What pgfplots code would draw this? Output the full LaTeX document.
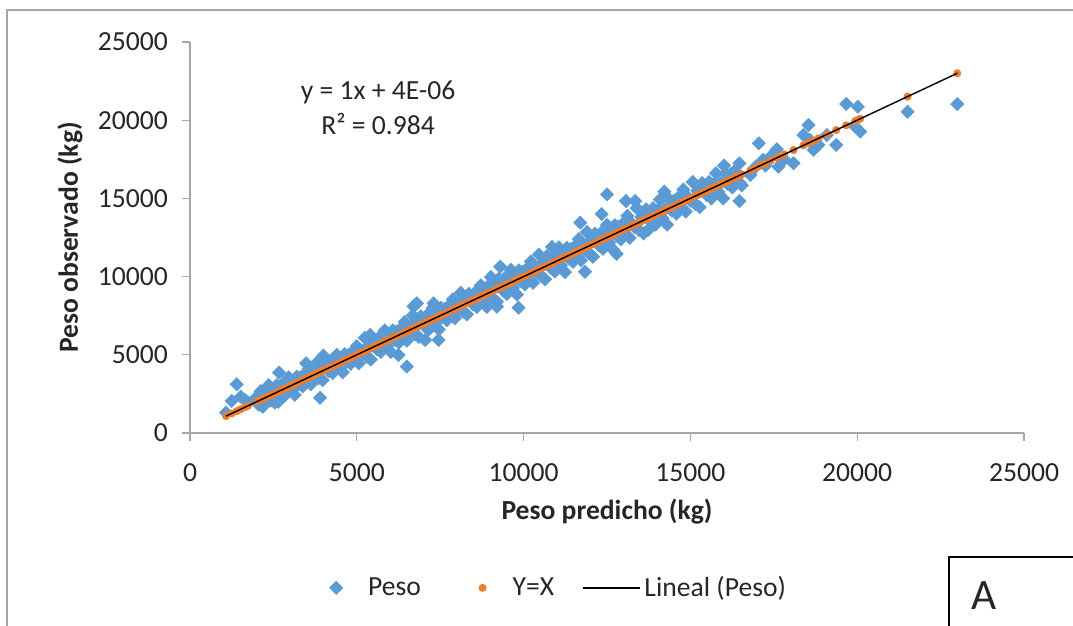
\documentclass[border=0pt]{standalone}
\usepackage{pgfplots}
\pgfplotsset{compat=1.18}
\usepackage{pgfplotstable}
\usepackage{fontspec}
\setmainfont{Carlito}

\definecolor{pesoblue}{HTML}{5B9BD5}
\definecolor{yxorange}{HTML}{ED7D31}
\definecolor{axgray}{HTML}{A6A6A6}
\definecolor{txt}{HTML}{262626}
\newcommand{\fs}{\fontsize{13.8}{16.5}\selectfont}

\pgfplotsset{
  markleg/.style={legend image code/.code={\draw[##1] plot coordinates {(0pt,0pt)}; \path[draw=none] (0pt,0pt) -- (#1,0pt);}},
  lineleg/.style={legend image code/.code={\draw[##1] (0pt,0pt) -- (28.5pt,0pt);}},
}

% Peso predicho (x) vs Peso observado (y), kg
\pgfplotstableread[row sep=\\]{
x y\\
1080 1300\\ 1250 2050\\ 1400 3110\\ 1520 2320\\ 1650 2110\\ 1740 1950\\
2000 2300\\ 2060 1810\\ 2120 2670\\ 2180 1680\\ 2240 2340\\ 2300 2200\\ 2360 3060\\ 2420 2070\\
2480 2680\\ 2540 1940\\ 2600 3050\\ 2650 2000\\ 2660 2660\\ 2670 3860\\ 2720 2520\\ 2780 3130\\
2840 2390\\ 2900 3050\\ 2960 3560\\ 3020 2720\\ 3080 3130\\ 3140 2440\\ 3200 3600\\ 3260 3110\\
3320 3570\\ 3380 2980\\ 3440 3740\\ 3480 4460\\ 3500 3250\\ 3560 4110\\ 3620 3120\\ 3680 3780\\
3740 3640\\ 3800 4500\\ 3860 3510\\ 3900 2250\\ 3920 4120\\ 3980 3380\\ 4000 4950\\ 4040 4490\\
4100 4100\\ 4160 3960\\ 4220 4570\\ 4280 3830\\ 4340 4490\\ 4400 5000\\ 4460 4160\\ 4520 4570\\
4580 3880\\ 4640 5040\\ 4700 4550\\ 4760 5010\\ 4820 4420\\ 4880 5180\\ 4940 4690\\ 5000 5550\\
5060 4460\\ 5120 5240\\ 5180 5060\\ 5240 6080\\ 5300 4880\\ 5360 5600\\ 5400 6270\\ 5420 4700\\
5480 6020\\ 5540 5540\\ 5600 5360\\ 5660 6080\\ 5720 5180\\ 5780 5960\\ 5840 6560\\ 5900 5540\\
5960 6020\\ 6020 5180\\ 6080 6560\\ 6140 5960\\ 6200 6500\\ 6250 4990\\ 6260 5780\\ 6320 6680\\
6380 6080\\ 6440 7100\\ 6500 5900\\ 6500 4250\\ 6560 6680\\ 6620 6500\\ 6680 7520\\ 6700 8100\\
6740 6320\\ 6800 7040\\ 6800 8290\\ 6860 6140\\ 6920 7460\\ 6980 6980\\ 7040 6800\\ 7050 5950\\
7100 7520\\ 7160 6620\\ 7220 7400\\ 7280 8000\\ 7300 8290\\ 7340 6980\\ 7400 7460\\ 7450 5950\\
7460 6620\\ 7520 8000\\ 7580 7400\\ 7640 7940\\ 7700 7220\\ 7760 8120\\ 7820 7520\\ 7880 8540\\
7940 7340\\ 8000 8120\\ 8060 7940\\ 8120 8960\\ 8180 7760\\ 8240 8480\\ 8300 7580\\ 8360 8900\\
8420 8420\\ 8480 8240\\ 8540 8960\\ 8600 8060\\ 8660 8840\\ 8720 9440\\ 8780 8420\\ 8840 8900\\
8900 8060\\ 8960 9440\\ 9020 9970\\ 9080 8610\\ 9140 9410\\ 9200 8390\\ 9200 8080\\ 9260 9870\\
9300 10630\\ 9320 9320\\ 9380 9110\\ 9440 9910\\ 9500 8890\\ 9560 9760\\ 9620 10430\\ 9680 9280\\
9740 9810\\ 9800 8850\\ 9850 8010\\ 9860 10400\\ 9920 9720\\ 9980 10320\\ 10040 9500\\ 10100 10500\\
10160 9820\\ 10220 10960\\ 10280 9600\\ 10340 10480\\ 10400 10260\\ 10460 11410\\ 10520 10050\\ 10580 10850\\
10640 9830\\ 10700 11310\\ 10760 10760\\ 10820 10550\\ 10850 11900\\ 10880 11350\\ 10940 10330\\ 11000 11200\\
11060 11870\\ 11120 10720\\ 11180 11250\\ 11240 10290\\ 11300 11840\\ 11360 11160\\ 11420 11760\\ 11480 10940\\
11540 11940\\ 11600 11260\\ 11660 12400\\ 11700 13450\\ 11720 11040\\ 11780 11920\\ 11840 11700\\ 11840 10310\\
11900 12850\\ 11960 11490\\ 12020 12290\\ 12080 11270\\ 12140 12750\\ 12200 12200\\ 12260 11990\\ 12320 12790\\
12340 14000\\ 12380 11770\\ 12440 12640\\ 12500 13310\\ 12500 15260\\ 12560 12160\\ 12620 12690\\ 12680 11730\\
12740 13280\\ 12790 11450\\ 12800 12600\\ 12860 13200\\ 12920 12380\\ 12980 13380\\ 13040 12690\\ 13070 14830\\
13110 13880\\ 13180 12480\\ 13250 13390\\ 13320 13180\\ 13345 14830\\ 13390 14370\\ 13460 12970\\ 13530 13810\\
13600 12760\\ 13670 14300\\ 13730 12980\\ 13740 13740\\ 13810 13530\\ 13880 14370\\ 13950 13320\\ 14020 14230\\
14090 14930\\ 14160 13740\\ 14220 15430\\ 14230 14300\\ 14300 13320\\ 14370 14930\\ 14440 14230\\ 14510 14860\\
14580 14020\\ 14650 15070\\ 14720 14370\\ 14790 15560\\ 14860 14160\\ 14930 15070\\ 15000 14860\\ 15070 16050\\
15140 14650\\ 15210 15490\\ 15280 14440\\ 15350 15980\\ 15420 15420\\ 15490 15210\\ 15560 16050\\ 15630 15000\\
15700 15910\\ 15770 16610\\ 15840 15420\\ 15910 15980\\ 15980 15000\\ 16010 17100\\ 16050 16610\\ 16120 15910\\
16190 16540\\ 16260 15700\\ 16330 16750\\ 16400 16050\\ 16470 17240\\ 16470 14830\\ 16470 16000\\ 16540 15840\\
16800 16500\\ 16960 17030\\ 17050 18520\\ 17180 17460\\ 17250 17100\\ 17400 17670\\ 17590 18140\\ 17640 17030\\
17810 17500\\ 18090 17250\\ 18390 19050\\ 18540 19690\\ 18590 18730\\ 18690 18100\\ 18840 18420\\ 19090 19050\\
19370 18420\\ 19670 21040\\ 19940 19590\\ 20020 20860\\ 20090 19270\\ 21510 20540\\ 23000 21030\\
}\peso

\begin{document}
\begin{tikzpicture}
\useasboundingbox (-95pt,-96.5pt) rectangle (441.5pt,216.5pt);
\draw[axgray, line width=0.7pt] (-91.5pt,-110pt) -- (-91.5pt,211.5pt) -- (460pt,211.5pt);
\begin{axis}[
  scale only axis,
  width=417pt, height=195.5pt,
  at={(0pt,0pt)}, anchor=south west,
  xmin=0, xmax=25000, ymin=0, ymax=25000,
  xtick={0,5000,...,25000}, ytick={0,5000,...,25000},
  axis lines=left,
  axis line style={axgray, line width=0.6pt, -},
  tick style={axgray, line width=0.6pt},
  tick align=outside, major tick length=4pt,
  clip marker paths=true,
  scaled ticks=false,
  /pgf/number format/1000 sep={},
  /pgf/number format/assume math mode=true,
  tick label style={font=\fs, text=txt},
  xticklabel style={yshift=-8pt},
  yticklabel style={xshift=-3.5pt},
  xlabel={Peso predicho (kg)},
  ylabel={Peso observado (kg)},
  label style={font=\fs\bfseries, text=txt},
  xlabel style={at={(axis description cs:0.5,-0.202)}, anchor=center},
  ylabel style={at={(axis description cs:-0.144,0.5)}, anchor=center},
  legend columns=3,
  legend style={draw=none, fill=none, inner sep=0pt, font=\fs, text=txt,
    at={(0.167,-0.396)}, anchor=west,
    /tikz/column 2/.style={column sep=27pt},
    /tikz/column 4/.style={column sep=12pt}},
]
\addplot[only marks, mark=square*, mark size=2.3pt, color=pesoblue,
  mark options={rotate=45}, markleg=14pt]
  table[x=x, y=y] {\peso};
\addlegendentry{Peso}
\addplot[only marks, mark=*, mark size=1.8pt, color=yxorange, markleg=13pt]
  table[x=x, y=x] {\peso};
\addlegendentry{Y=X}
\addplot[black, line width=0.7pt, no marks, lineleg]
  coordinates {(1080,1080) (23000,23000)};
\addlegendentry{Lineal (Peso)}
\node[align=center, font=\fs, text=txt, inner sep=0pt] at (axis cs:5640,20800)
  {y = 1x + 4E-06\\[1pt] R² = 0.984};
\end{axis}
\draw[black, line width=0.9pt] (520pt,-62pt) -- (379.5pt,-62pt) -- (379.5pt,-130pt);
\node[anchor=base west, inner sep=0pt, font=\fontsize{21.7}{26}\selectfont, text=txt] at (390.5pt,-88.5pt) {A};
\end{tikzpicture}
\end{document}
